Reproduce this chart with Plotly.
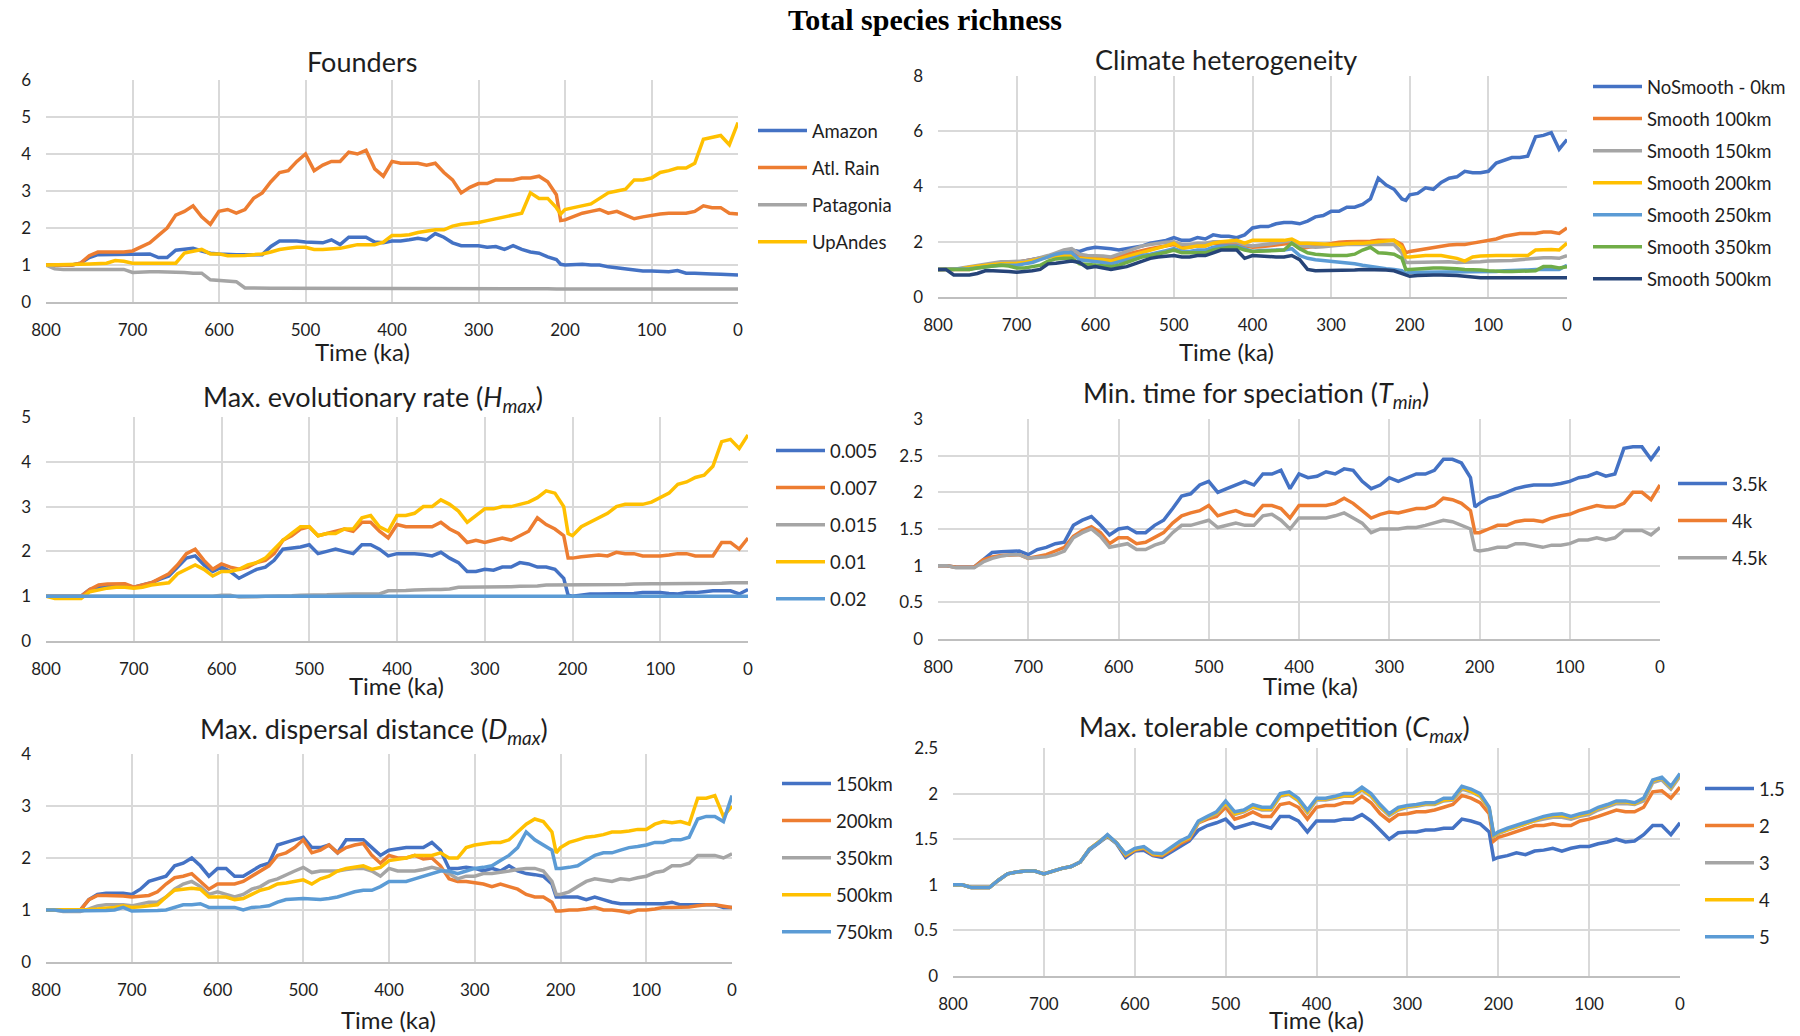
import plotly.graph_objects as go

# Time axis (ka before present), shared by every panel
T = [800, 790, 780, 770, 760, 750, 740, 730, 720, 710,
     700, 690, 680, 670, 660, 650, 640, 630, 620, 610,
     600, 590, 580, 570, 560, 550, 540, 530, 520, 510,
     500, 490, 480, 470, 460, 450, 440, 430, 420, 410,
     400, 390, 380, 370, 360, 350, 340, 330, 320, 310,
     300, 290, 280, 270, 260, 250, 240, 230, 220, 210,
     205,
     200, 190, 180, 170, 160, 150, 140, 130, 120, 110,
     100, 90, 80, 70, 60, 50, 40, 30, 20, 10,
     0]

# ---- Founders ----
amazon = [1.0, 1.0, 1.0, 1.0, 1.05, 1.2, 1.28, 1.28, 1.28, 1.3,
          1.3, 1.3, 1.3, 1.2, 1.2, 1.4, 1.42, 1.45, 1.38, 1.32,
          1.3, 1.28, 1.28, 1.28, 1.28, 1.28, 1.5, 1.65, 1.65, 1.65,
          1.62, 1.6, 1.6, 1.68, 1.55, 1.75, 1.75, 1.75, 1.62, 1.6,
          1.65, 1.65, 1.68, 1.72, 1.68, 1.85, 1.75, 1.6, 1.52, 1.52,
          1.52, 1.48, 1.5, 1.42, 1.52, 1.42, 1.35, 1.32, 1.22, 1.15,
          1.02,
          1.0, 1.02, 1.02, 1.0, 1.0, 0.95, 0.92, 0.88, 0.85, 0.84,
          0.84, 0.83, 0.82, 0.85, 0.78, 0.78, 0.78, 0.76, 0.75, 0.74,
          0.73]
atl_rain = [1.0, 1.0, 1.0, 1.0, 1.05, 1.25, 1.35, 1.35, 1.35, 1.35,
            1.38, 1.5, 1.6, 1.8, 2.0, 2.35, 2.45, 2.6, 2.3, 2.1,
            2.45, 2.5, 2.4, 2.5, 2.8, 2.95, 3.25, 3.5, 3.55, 3.8,
            4.0, 3.55, 3.7, 3.8, 3.8, 4.05, 4.0, 4.1, 3.6, 3.4,
            3.8, 3.75, 3.75, 3.75, 3.7, 3.75, 3.5, 3.3, 2.95, 3.1,
            3.2, 3.2, 3.3, 3.3, 3.3, 3.35, 3.35, 3.4, 3.25, 2.9,
            2.2,
            2.22, 2.3, 2.4, 2.45, 2.5, 2.4, 2.45, 2.35, 2.25, 2.3,
            2.35, 2.38, 2.4, 2.4, 2.4, 2.45, 2.6, 2.55, 2.55, 2.4,
            2.38]
patagonia = [1.0, 0.9, 0.88, 0.88, 0.88, 0.88, 0.88, 0.88, 0.88, 0.88,
             0.8, 0.82, 0.82, 0.82, 0.82, 0.82, 0.8, 0.78, 0.78, 0.6,
             0.58, 0.55, 0.55, 0.38, 0.37, 0.37, 0.37, 0.37, 0.37, 0.37,
             0.37, 0.37, 0.37, 0.37, 0.37, 0.37, 0.37, 0.37, 0.37, 0.38,
             0.38, 0.38, 0.38, 0.38, 0.38, 0.37, 0.37, 0.36, 0.36, 0.36,
             0.36, 0.36, 0.36, 0.36, 0.36, 0.36, 0.36, 0.36, 0.36, 0.35,
             0.35,
             0.35, 0.35, 0.35, 0.35, 0.35, 0.35, 0.35, 0.35, 0.35, 0.35,
             0.35, 0.35, 0.35, 0.35, 0.35, 0.35, 0.35, 0.35, 0.35, 0.35,
             0.35]
up_andes = [1.0, 1.0, 1.0, 1.0, 1.02, 1.03, 1.04, 1.05, 1.12, 1.1,
            1.05, 1.05, 1.05, 1.05, 1.05, 1.05, 1.32, 1.38, 1.42, 1.3,
            1.3, 1.25, 1.25, 1.26, 1.28, 1.3, 1.35, 1.42, 1.45, 1.48,
            1.48, 1.42, 1.42, 1.43, 1.45, 1.5, 1.55, 1.55, 1.55, 1.62,
            1.8, 1.8, 1.82, 1.88, 1.92, 1.95, 1.95, 2.05, 2.1, 2.12,
            2.15, 2.2, 2.25, 2.3, 2.35, 2.4, 2.95, 2.8, 2.8, 2.55,
            2.38,
            2.5, 2.55, 2.6, 2.65, 2.8, 2.95, 3.0, 3.05, 3.3, 3.3,
            3.35, 3.5, 3.55, 3.62, 3.62, 3.75, 4.4, 4.45, 4.5, 4.25,
            4.85]

# ---- Climate heterogeneity ----
no_smooth = [1.0, 1.0, 1.0, 1.02, 1.05, 1.08, 1.1, 1.15, 1.2, 1.22,
             1.25, 1.3, 1.35, 1.4, 1.45, 1.52, 1.6, 1.7, 1.65, 1.75,
             1.8, 1.78, 1.75, 1.7, 1.75, 1.8, 1.85, 1.95, 2.0, 2.05,
             2.15, 2.05, 2.05, 2.15, 2.1, 2.25, 2.2, 2.2, 2.15, 2.25,
             2.5, 2.55, 2.55, 2.65, 2.7, 2.7, 2.65, 2.75, 2.9, 2.95,
             3.1, 3.1, 3.25, 3.25, 3.35, 3.55, 4.3, 4.05, 3.9, 3.55,
             3.5,
             3.7, 3.75, 3.95, 3.9, 4.15, 4.3, 4.35, 4.55, 4.5, 4.5,
             4.55, 4.85, 4.95, 5.05, 5.05, 5.1, 5.8, 5.85, 5.95, 5.35,
             5.7]
smooth_100 = [1.0, 1.0, 1.0, 1.0, 1.0, 1.1, 1.15, 1.18, 1.2, 1.22,
              1.25, 1.3, 1.35, 1.4, 1.45, 1.5, 1.55, 1.6, 1.45, 1.45,
              1.45, 1.42, 1.4, 1.45, 1.55, 1.62, 1.7, 1.75, 1.8, 1.85,
              1.9, 1.8, 1.8, 1.85, 1.85, 1.95, 1.95, 1.95, 1.95, 1.85,
              1.8, 1.82, 1.85, 1.88, 1.9, 1.95, 1.75, 1.8, 1.85, 1.9,
              1.95, 1.98, 2.0, 2.0, 2.0, 2.02, 2.05, 2.05, 2.05, 1.9,
              1.6,
              1.65, 1.7, 1.75, 1.8, 1.85, 1.88, 1.9, 1.9, 1.95, 2.0,
              2.05, 2.1, 2.2, 2.25, 2.3, 2.3, 2.3, 2.35, 2.35, 2.3,
              2.5]
smooth_150 = [1.0, 1.0, 1.0, 1.05, 1.1, 1.15, 1.2, 1.25, 1.28, 1.28,
              1.28, 1.3, 1.35, 1.42, 1.5, 1.6, 1.7, 1.75, 1.55, 1.5,
              1.5, 1.48, 1.45, 1.55, 1.65, 1.75, 1.85, 1.9, 1.95, 1.98,
              2.0, 1.9, 1.9, 1.95, 1.95, 2.0, 2.0, 2.0, 2.0, 1.9,
              1.85, 1.88, 1.9, 1.95, 2.0, 2.05, 1.85, 1.82, 1.8, 1.82,
              1.85, 1.88, 1.9, 1.9, 1.9, 1.9, 1.9, 1.9, 1.9, 1.6,
              1.25,
              1.25, 1.26, 1.28, 1.28, 1.3, 1.28, 1.25, 1.25, 1.25, 1.28,
              1.3, 1.3, 1.3, 1.32, 1.35, 1.38, 1.4, 1.42, 1.42, 1.4,
              1.5]
smooth_200 = [1.0, 1.0, 1.0, 1.02, 1.08, 1.12, 1.15, 1.18, 1.2, 1.2,
              1.22, 1.25, 1.3, 1.38, 1.45, 1.48, 1.5, 1.5, 1.4, 1.38,
              1.38, 1.35, 1.3, 1.38, 1.45, 1.52, 1.6, 1.68, 1.75, 1.85,
              1.95, 1.75, 1.8, 1.85, 1.85, 1.95, 2.0, 2.02, 2.05, 1.95,
              2.05, 2.05, 2.05, 2.05, 2.05, 2.1, 1.95, 1.95, 1.95, 1.92,
              1.9, 1.92, 1.95, 1.95, 1.95, 1.98, 2.0, 2.02, 2.05, 1.8,
              1.45,
              1.45, 1.48, 1.5, 1.5, 1.5, 1.45, 1.4, 1.3, 1.45, 1.48,
              1.5, 1.5, 1.5, 1.5, 1.5, 1.5, 1.7, 1.72, 1.72, 1.7,
              1.95]
smooth_250 = [1.0, 1.0, 1.0, 1.0, 1.02, 1.05, 1.1, 1.12, 1.15, 1.15,
              1.15, 1.2, 1.25, 1.35, 1.45, 1.55, 1.6, 1.6, 1.35, 1.32,
              1.3, 1.25, 1.2, 1.28, 1.35, 1.42, 1.5, 1.55, 1.6, 1.68,
              1.75, 1.65, 1.65, 1.7, 1.7, 1.8, 1.85, 1.85, 1.85, 1.75,
              1.65, 1.68, 1.7, 1.7, 1.7, 1.75, 1.5, 1.4, 1.35, 1.32,
              1.3, 1.28, 1.25, 1.2, 1.15, 1.1, 1.05, 1.02, 1.0, 0.95,
              0.85,
              0.9, 0.9, 0.9, 0.9, 0.92, 0.92, 0.92, 0.9, 0.9, 0.9,
              0.9, 0.92, 0.95, 0.95, 0.95, 0.98, 1.0, 1.0, 1.0, 1.0,
              1.15]
smooth_350 = [1.0, 1.0, 1.0, 1.0, 1.0, 1.05, 1.1, 1.12, 1.15, 1.12,
              1.05, 1.05, 1.1, 1.15, 1.3, 1.38, 1.4, 1.4, 1.2, 1.18,
              1.15, 1.12, 1.1, 1.15, 1.25, 1.35, 1.45, 1.5, 1.55, 1.62,
              1.7, 1.6, 1.6, 1.6, 1.6, 1.7, 1.75, 1.8, 1.8, 1.7,
              1.65, 1.65, 1.65, 1.68, 1.7, 1.95, 1.75, 1.6, 1.55, 1.52,
              1.5, 1.5, 1.5, 1.55, 1.7, 1.8, 1.6, 1.58, 1.55, 1.4,
              1.0,
              1.0, 1.02, 1.05, 1.05, 1.05, 1.05, 1.02, 1.0, 1.0, 0.98,
              0.95, 0.92, 0.92, 0.92, 0.92, 0.92, 0.95, 1.1, 1.1, 1.05,
              1.1]
smooth_500 = [1.0, 1.0, 0.8, 0.8, 0.8, 0.85, 0.95, 0.95, 0.95, 0.92,
              0.9, 0.92, 0.95, 1.0, 1.2, 1.22, 1.25, 1.3, 1.25, 1.05,
              1.1, 1.05, 1.0, 1.05, 1.1, 1.2, 1.3, 1.4, 1.45, 1.48,
              1.5, 1.45, 1.45, 1.5, 1.5, 1.6, 1.7, 1.7, 1.7, 1.4,
              1.5, 1.48, 1.45, 1.45, 1.45, 1.5, 1.35, 1.0, 0.95, 0.95,
              0.95, 0.95, 0.95, 0.98, 1.0, 1.0, 1.0, 0.98, 0.95, 0.85,
              0.78,
              0.75, 0.78, 0.8, 0.8, 0.8, 0.8, 0.78, 0.75, 0.72, 0.7,
              0.7, 0.7, 0.7, 0.7, 0.7, 0.7, 0.7, 0.72, 0.72, 0.7,
              0.7]

# ---- Max. evolutionary rate ----
h_0005 = [1.0, 1.0, 1.0, 1.0, 1.0, 1.15, 1.2, 1.22, 1.25, 1.25,
          1.2, 1.25, 1.3, 1.38, 1.45, 1.65, 1.85, 1.9, 1.7, 1.55,
          1.65, 1.55, 1.4, 1.5, 1.6, 1.65, 1.8, 2.05, 2.08, 2.1,
          2.15, 1.95, 2.0, 2.05, 2.0, 1.95, 2.15, 2.15, 2.05, 1.9,
          1.95, 1.95, 1.95, 1.93, 1.9, 1.98, 1.85, 1.75, 1.55, 1.55,
          1.6, 1.58, 1.65, 1.65, 1.75, 1.72, 1.65, 1.65, 1.6, 1.4,
          1.02,
          1.0, 1.02, 1.05, 1.05, 1.05, 1.05, 1.05, 1.06, 1.08, 1.08,
          1.08, 1.06, 1.05, 1.08, 1.08, 1.1, 1.12, 1.12, 1.12, 1.05,
          1.15]
h_0007 = [1.0, 1.0, 1.0, 1.0, 1.0, 1.15, 1.25, 1.27, 1.28, 1.28,
          1.2, 1.25, 1.3, 1.4, 1.5, 1.7, 1.95, 2.05, 1.8, 1.6,
          1.72, 1.65, 1.6, 1.65, 1.75, 1.8, 1.95, 2.25, 2.35, 2.5,
          2.55, 2.35, 2.4, 2.45, 2.5, 2.45, 2.65, 2.65, 2.45, 2.3,
          2.6, 2.55, 2.55, 2.55, 2.55, 2.65, 2.5, 2.4, 2.2, 2.25,
          2.2, 2.25, 2.3, 2.25, 2.35, 2.45, 2.75, 2.6, 2.5, 2.35,
          1.85,
          1.85, 1.88, 1.9, 1.92, 1.9, 1.98, 1.95, 1.95, 1.9, 1.9,
          1.9, 1.92, 1.95, 1.95, 1.9, 1.9, 1.9, 2.2, 2.2, 2.05,
          2.3]
h_0015 = [1.0, 1.0, 1.0, 1.0, 1.0, 1.0, 1.0, 1.0, 1.0, 1.0,
          1.0, 1.0, 1.0, 1.0, 1.0, 1.0, 1.0, 1.0, 1.0, 1.0,
          1.02, 1.02, 0.98, 0.98, 0.99, 1.0, 1.0, 1.0, 1.01, 1.02,
          1.02, 1.02, 1.03, 1.04, 1.05, 1.05, 1.05, 1.05, 1.05, 1.12,
          1.12, 1.13, 1.14, 1.15, 1.15, 1.15, 1.16, 1.2, 1.2, 1.2,
          1.2, 1.2, 1.2, 1.21, 1.22, 1.22, 1.23, 1.25, 1.25, 1.25,
          1.25,
          1.25, 1.25, 1.25, 1.26, 1.26, 1.26, 1.26, 1.27, 1.28, 1.28,
          1.28, 1.28, 1.28, 1.28, 1.28, 1.28, 1.28, 1.29, 1.3, 1.3,
          1.3]
h_001 = [1.0, 0.95, 0.95, 0.95, 0.95, 1.1, 1.15, 1.18, 1.2, 1.2,
         1.18, 1.2, 1.25, 1.28, 1.3, 1.5, 1.6, 1.7, 1.6, 1.45,
         1.55, 1.55, 1.6, 1.7, 1.75, 1.85, 2.05, 2.25, 2.4, 2.55,
         2.55, 2.35, 2.4, 2.4, 2.5, 2.5, 2.75, 2.8, 2.55, 2.45,
         2.8, 2.8, 2.85, 3.0, 3.0, 3.15, 3.05, 2.9, 2.65, 2.8,
         2.95, 2.95, 3.0, 3.0, 3.05, 3.1, 3.2, 3.35, 3.3, 3.0,
         2.4,
         2.35, 2.55, 2.65, 2.75, 2.85, 3.0, 3.05, 3.05, 3.05, 3.1,
         3.2, 3.3, 3.5, 3.55, 3.65, 3.7, 3.9, 4.45, 4.5, 4.3,
         4.6]
h_002 = [1.0, 1.0, 1.0, 1.0, 1.0, 1.0, 1.0, 1.0, 1.0, 1.0,
         1.0, 1.0, 1.0, 1.0, 1.0, 1.0, 1.0, 1.0, 1.0, 1.0,
         1.0, 1.0, 1.0, 1.0, 1.0, 1.0, 1.0, 1.0, 1.0, 1.0,
         1.0, 1.0, 1.0, 1.0, 1.0, 1.0, 1.0, 1.0, 1.0, 1.0,
         1.0, 1.0, 1.0, 1.0, 1.0, 1.0, 1.0, 1.0, 1.0, 1.0,
         1.0, 1.0, 1.0, 1.0, 1.0, 1.0, 1.0, 1.0, 1.0, 1.0,
         1.0,
         1.0, 1.0, 1.0, 1.0, 1.0, 1.0, 1.0, 1.0, 1.0, 1.0,
         1.0, 1.0, 1.0, 1.0, 1.0, 1.0, 1.0, 1.0, 1.0, 1.0,
         1.0]

# ---- Min. time for speciation ----
t_35k = [1.0, 1.0, 0.98, 0.98, 0.98, 1.08, 1.18, 1.19, 1.2, 1.2,
         1.15, 1.22, 1.25, 1.3, 1.32, 1.55, 1.62, 1.67, 1.55, 1.42,
         1.5, 1.52, 1.45, 1.45, 1.55, 1.62, 1.78, 1.95, 1.98, 2.1,
         2.15, 2.0, 2.05, 2.1, 2.15, 2.1, 2.25, 2.25, 2.3, 2.05,
         2.25, 2.2, 2.22, 2.28, 2.25, 2.32, 2.3, 2.15, 2.05, 2.1,
         2.2, 2.15, 2.2, 2.25, 2.25, 2.3, 2.45, 2.45, 2.4, 2.2,
         1.8,
         1.85, 1.92, 1.95, 2.0, 2.05, 2.08, 2.1, 2.1, 2.1, 2.12,
         2.15, 2.2, 2.22, 2.27, 2.22, 2.25, 2.6, 2.62, 2.62, 2.45,
         2.62]
t_4k = [1.0, 1.0, 0.98, 0.98, 0.98, 1.08, 1.12, 1.14, 1.15, 1.15,
        1.1, 1.13, 1.15, 1.2, 1.25, 1.4, 1.48, 1.53, 1.45, 1.3,
        1.38, 1.38, 1.3, 1.32, 1.38, 1.45, 1.58, 1.68, 1.72, 1.75,
        1.82, 1.68, 1.72, 1.75, 1.7, 1.68, 1.82, 1.82, 1.78, 1.65,
        1.82, 1.82, 1.82, 1.82, 1.85, 1.92, 1.85, 1.75, 1.65, 1.7,
        1.73, 1.72, 1.75, 1.78, 1.78, 1.82, 1.92, 1.9, 1.85, 1.75,
        1.45,
        1.45, 1.5, 1.55, 1.55, 1.6, 1.62, 1.62, 1.6, 1.65, 1.68,
        1.7, 1.75, 1.78, 1.82, 1.8, 1.8, 1.85, 2.0, 2.0, 1.9,
        2.1]
t_45k = [1.0, 1.0, 0.97, 0.97, 0.97, 1.05, 1.1, 1.13, 1.15, 1.15,
         1.1, 1.11, 1.12, 1.15, 1.2, 1.38, 1.45, 1.5, 1.4, 1.25,
         1.28, 1.3, 1.22, 1.22, 1.28, 1.32, 1.45, 1.55, 1.55, 1.58,
         1.62, 1.52, 1.55, 1.58, 1.55, 1.55, 1.68, 1.7, 1.62, 1.5,
         1.65, 1.65, 1.65, 1.65, 1.68, 1.72, 1.65, 1.58, 1.45, 1.5,
         1.5, 1.5, 1.52, 1.52, 1.55, 1.58, 1.62, 1.6, 1.55, 1.5,
         1.22,
         1.2, 1.22, 1.25, 1.25, 1.3, 1.3, 1.28, 1.25, 1.28, 1.28,
         1.3, 1.35, 1.35, 1.38, 1.35, 1.38, 1.48, 1.48, 1.48, 1.42,
         1.52]

# ---- Max. dispersal distance ----
d_150 = [1.0, 1.0, 1.0, 1.0, 1.0, 1.2, 1.3, 1.32, 1.32, 1.32,
         1.3, 1.4, 1.55, 1.6, 1.65, 1.85, 1.9, 2.0, 1.85, 1.65,
         1.8, 1.8, 1.65, 1.65, 1.75, 1.85, 1.9, 2.25, 2.3, 2.35,
         2.4, 2.2, 2.2, 2.25, 2.1, 2.35, 2.35, 2.35, 2.2, 2.05,
         2.15, 2.18, 2.2, 2.2, 2.2, 2.3, 2.15, 1.8, 1.8, 1.82,
         1.8, 1.75, 1.8, 1.75, 1.85, 1.75, 1.7, 1.68, 1.65, 1.5,
         1.25,
         1.25, 1.25, 1.25, 1.2, 1.25, 1.2, 1.15, 1.12, 1.12, 1.12,
         1.12, 1.12, 1.12, 1.15, 1.1, 1.1, 1.1, 1.1, 1.1, 1.05,
         1.05]
d_200 = [1.0, 1.0, 1.0, 1.0, 1.0, 1.2, 1.28, 1.28, 1.28, 1.27,
         1.25, 1.26, 1.28, 1.35, 1.5, 1.62, 1.65, 1.7, 1.55, 1.4,
         1.5, 1.5, 1.5, 1.55, 1.65, 1.75, 1.85, 2.05, 2.1, 2.2,
         2.35, 2.1, 2.15, 2.25, 2.1, 2.2, 2.25, 2.28, 2.05, 1.9,
         2.05, 2.0, 2.0, 2.05, 1.98, 2.0, 1.85, 1.6, 1.55, 1.55,
         1.52, 1.5, 1.45, 1.5, 1.45, 1.4, 1.3, 1.25, 1.25, 1.15,
         0.98,
         0.98, 1.0, 1.0, 1.02, 1.05, 1.0, 1.0, 0.98, 0.95, 1.0,
         1.0, 1.02, 1.05, 1.05, 1.05, 1.06, 1.08, 1.1, 1.1, 1.08,
         1.05]
d_350 = [1.0, 1.0, 0.97, 0.97, 0.97, 1.02, 1.08, 1.1, 1.1, 1.1,
         1.08, 1.12, 1.15, 1.15, 1.25, 1.4, 1.5, 1.55, 1.45, 1.3,
         1.35, 1.3, 1.25, 1.3, 1.4, 1.45, 1.55, 1.6, 1.68, 1.75,
         1.82, 1.72, 1.75, 1.75, 1.75, 1.78, 1.8, 1.8, 1.75, 1.65,
         1.8, 1.75, 1.75, 1.75, 1.78, 1.82, 1.78, 1.7, 1.6, 1.65,
         1.65, 1.7, 1.7, 1.72, 1.75, 1.78, 1.8, 1.8, 1.75, 1.55,
         1.3,
         1.3, 1.35, 1.45, 1.55, 1.6, 1.58, 1.55, 1.6, 1.58, 1.62,
         1.65, 1.72, 1.75, 1.85, 1.85, 1.9, 2.05, 2.05, 2.05, 2.0,
         2.08]
d_500 = [1.0, 1.0, 1.0, 1.0, 1.0, 1.01, 1.02, 1.03, 1.05, 1.08,
         1.05, 1.06, 1.08, 1.1, 1.25, 1.38, 1.4, 1.42, 1.4, 1.25,
         1.25, 1.25, 1.2, 1.22, 1.3, 1.38, 1.42, 1.5, 1.52, 1.55,
         1.58, 1.5, 1.6, 1.65, 1.75, 1.8, 1.82, 1.85, 1.78, 1.82,
         1.95, 1.98, 2.0, 2.05, 2.05, 2.05, 2.1, 2.0, 2.0, 2.2,
         2.25, 2.28, 2.3, 2.3, 2.35, 2.5, 2.65, 2.75, 2.7, 2.5,
         2.1,
         2.2, 2.3, 2.35, 2.4, 2.42, 2.45, 2.5, 2.5, 2.52, 2.55,
         2.55, 2.65, 2.7, 2.68, 2.7, 2.65, 3.15, 3.15, 3.2, 2.8,
         3.0]
d_750 = [1.0, 1.0, 0.98, 0.98, 0.98, 0.98, 0.98, 0.99, 1.0, 1.05,
         0.98, 0.98, 0.98, 0.99, 1.0, 1.05, 1.1, 1.1, 1.12, 1.05,
         1.05, 1.05, 1.05, 1.0, 1.05, 1.06, 1.08, 1.15, 1.2, 1.21,
         1.22, 1.21, 1.2, 1.22, 1.25, 1.3, 1.35, 1.38, 1.38, 1.45,
         1.55, 1.55, 1.55, 1.6, 1.65, 1.7, 1.75, 1.75, 1.7, 1.75,
         1.8, 1.82, 1.85, 1.95, 2.05, 2.2, 2.5, 2.35, 2.25, 2.15,
         1.8,
         1.8, 1.82, 1.85, 1.95, 2.05, 2.1, 2.1, 2.15, 2.2, 2.22,
         2.25, 2.3, 2.3, 2.35, 2.35, 2.4, 2.75, 2.8, 2.8, 2.7,
         3.2]

# ---- Max. tolerable competition ----
c_15 = [1.0, 1.0, 0.97, 0.97, 0.97, 1.05, 1.12, 1.14, 1.15, 1.15,
        1.12, 1.15, 1.18, 1.2, 1.25, 1.38, 1.45, 1.53, 1.45, 1.3,
        1.37, 1.38, 1.32, 1.3, 1.36, 1.42, 1.48, 1.6, 1.65, 1.68,
        1.72, 1.62, 1.65, 1.68, 1.65, 1.62, 1.75, 1.75, 1.7, 1.58,
        1.7, 1.7, 1.7, 1.72, 1.72, 1.77, 1.7, 1.6, 1.5, 1.57,
        1.58, 1.58, 1.6, 1.6, 1.62, 1.62, 1.72, 1.7, 1.67, 1.58,
        1.28,
        1.3, 1.32, 1.35, 1.33, 1.37, 1.38, 1.4, 1.37, 1.4, 1.42,
        1.42, 1.45, 1.47, 1.5, 1.47, 1.48, 1.55, 1.65, 1.65, 1.55,
        1.68]
c_2 = [1.0, 1.0, 0.97, 0.97, 0.97, 1.05, 1.12, 1.14, 1.15, 1.15,
       1.12, 1.15, 1.18, 1.2, 1.25, 1.39, 1.46, 1.54, 1.46, 1.32,
       1.38, 1.4, 1.33, 1.32, 1.38, 1.45, 1.5, 1.68, 1.72, 1.75,
       1.85, 1.72, 1.75, 1.8, 1.75, 1.75, 1.88, 1.9, 1.85, 1.72,
       1.85, 1.87, 1.87, 1.9, 1.9, 1.97, 1.9, 1.78, 1.7, 1.77,
       1.78, 1.8, 1.8, 1.82, 1.85, 1.88, 1.98, 1.95, 1.9, 1.78,
       1.48,
       1.52, 1.55, 1.58, 1.62, 1.65, 1.65, 1.67, 1.65, 1.65, 1.7,
       1.72, 1.75, 1.78, 1.82, 1.8, 1.8, 1.85, 2.02, 2.03, 1.95,
       2.07]
c_3 = [1.0, 1.0, 0.97, 0.97, 0.97, 1.05, 1.12, 1.14, 1.15, 1.15,
       1.12, 1.15, 1.18, 1.2, 1.25, 1.39, 1.46, 1.54, 1.46, 1.33,
       1.39, 1.41, 1.34, 1.33, 1.4, 1.47, 1.52, 1.68, 1.74, 1.78,
       1.89, 1.77, 1.8, 1.85, 1.82, 1.82, 1.97, 1.99, 1.92, 1.79,
       1.93, 1.93, 1.95, 1.97, 1.97, 2.04, 1.97, 1.85, 1.76, 1.82,
       1.85, 1.86, 1.88, 1.88, 1.92, 1.93, 2.05, 2.02, 1.97, 1.83,
       1.53,
       1.56, 1.6, 1.63, 1.66, 1.7, 1.72, 1.74, 1.74, 1.72, 1.75,
       1.77, 1.82, 1.85, 1.89, 1.89, 1.88, 1.92, 2.12, 2.15, 2.05,
       2.19]
c_4 = [1.0, 1.0, 0.97, 0.97, 0.97, 1.05, 1.12, 1.14, 1.15, 1.15,
       1.12, 1.15, 1.18, 1.2, 1.25, 1.39, 1.46, 1.54, 1.46, 1.33,
       1.39, 1.41, 1.34, 1.33, 1.4, 1.47, 1.52, 1.69, 1.74, 1.79,
       1.9, 1.78, 1.81, 1.86, 1.83, 1.83, 1.98, 2.0, 1.93, 1.8,
       1.94, 1.94, 1.96, 1.98, 1.98, 2.05, 1.98, 1.86, 1.77, 1.83,
       1.86, 1.87, 1.89, 1.89, 1.93, 1.94, 2.07, 2.03, 1.98, 1.84,
       1.54,
       1.57, 1.61, 1.64, 1.67, 1.71, 1.74, 1.76, 1.76, 1.74, 1.77,
       1.79, 1.84, 1.87, 1.91, 1.91, 1.89, 1.94, 2.14, 2.17, 2.07,
       2.21]
c_5 = [1.0, 1.0, 0.97, 0.97, 0.97, 1.05, 1.12, 1.14, 1.15, 1.15,
       1.12, 1.15, 1.18, 1.2, 1.25, 1.39, 1.46, 1.55, 1.46, 1.34,
       1.4, 1.42, 1.35, 1.34, 1.41, 1.48, 1.53, 1.7, 1.75, 1.8,
       1.92, 1.8, 1.82, 1.88, 1.85, 1.85, 2.0, 2.02, 1.95, 1.82,
       1.95, 1.95, 1.97, 2.0, 2.0, 2.07, 2.0, 1.88, 1.78, 1.85,
       1.87, 1.88, 1.9, 1.9, 1.95, 1.95, 2.08, 2.05, 2.0, 1.85,
       1.55,
       1.58, 1.62, 1.65, 1.68, 1.72, 1.75, 1.77, 1.78, 1.75, 1.78,
       1.8, 1.85, 1.88, 1.92, 1.92, 1.9, 1.95, 2.15, 2.18, 2.08,
       2.22]

# Office palette
BLUE, ORANGE, GRAY, GOLD = "#4472C4", "#ED7D31", "#A5A5A5", "#FFC000"
LBLUE, GREEN, NAVY = "#5B9BD5", "#70AD47", "#264478"

FONT = "Lato"
TXT = "#1e1e1e"
W, H = 1800, 1036

panels = [
    dict(title="Founders", names=["Amazon", "Atl. Rain", "Patagonia", "UpAndes"],
         series=[amazon, atl_rain, patagonia, up_andes], colors=[BLUE, ORANGE, GRAY, GOLD],
         box=(46, 738, 80, 302), yrange=(0, 6), dtick=1,
         title_xy=(362, 61), xlab_xy=(362, 351), legend_xy=(753, 112), gap=10),
    dict(title="Climate heterogeneity",
         names=["NoSmooth - 0km", "Smooth 100km", "Smooth 150km", "Smooth 200km",
                "Smooth 250km", "Smooth 350km", "Smooth 500km"],
         series=[no_smooth, smooth_100, smooth_150, smooth_200, smooth_250, smooth_350, smooth_500],
         colors=[BLUE, ORANGE, GRAY, GOLD, LBLUE, GREEN, NAVY],
         box=(938, 1567, 76, 297), yrange=(0, 8), dtick=2,
         title_xy=(1226, 60), xlab_xy=(1226, 351), legend_xy=(1588, 68), gap=5),
    dict(title="Max. evolutionary rate (<i>H</i><sub><i>max</i></sub>)",
         names=["0.005", "0.007", "0.015", "0.01", "0.02"],
         series=[h_0005, h_0007, h_0015, h_001, h_002], colors=[BLUE, ORANGE, GRAY, GOLD, LBLUE],
         box=(46, 748, 417, 641), yrange=(0, 5), dtick=1,
         title_xy=(373, 398), xlab_xy=(396, 685), legend_xy=(771, 432), gap=10),
    dict(title="Min. time for speciation (<i>T</i><sub><i>min</i></sub>)",
         names=["3.5k", "4k", "4.5k"],
         series=[t_35k, t_4k, t_45k], colors=[BLUE, ORANGE, GRAY],
         box=(938, 1660, 419, 639), yrange=(0, 3), dtick=0.5,
         title_xy=(1256, 395), xlab_xy=(1310, 685), legend_xy=(1673, 465), gap=10),
    dict(title="Max. dispersal distance (<i>D</i><sub><i>max</i></sub>)",
         names=["150km", "200km", "350km", "500km", "750km"],
         series=[d_150, d_200, d_350, d_500, d_750], colors=[BLUE, ORANGE, GRAY, GOLD, LBLUE],
         box=(46, 732, 754, 962), yrange=(0, 4), dtick=1,
         title_xy=(374, 730), xlab_xy=(388, 1019), legend_xy=(777, 765), gap=10),
    dict(title="Max. tolerable competition (<i>C</i><sub><i>max</i></sub>)",
         names=["1.5", "2", "3", "4", "5"],
         series=[c_15, c_2, c_3, c_4, c_5], colors=[BLUE, ORANGE, GRAY, GOLD, LBLUE],
         box=(953, 1680, 748, 976), yrange=(0, 2.5), dtick=0.5,
         title_xy=(1274, 728), xlab_xy=(1316, 1019), legend_xy=(1700, 770), gap=10),
]

fig = go.Figure()
layout = dict(
    width=W, height=H, autosize=False,
    margin=dict(l=0, r=0, t=0, b=0, autoexpand=False),
    paper_bgcolor="white", plot_bgcolor="white",
    font=dict(family=FONT, color=TXT, size=17),
    annotations=[], showlegend=True,
)

layout["annotations"].append(dict(
    text="<b>Total species richness</b>", x=925 / W, y=1 - 20 / H,
    xref="paper", yref="paper", xanchor="center", yanchor="middle", showarrow=False,
    font=dict(family="Liberation Serif", size=30, color="#000000")))

for k, p in enumerate(panels, start=1):
    sfx = "" if k == 1 else str(k)
    xa, ya, lg = "xaxis" + sfx, "yaxis" + sfx, "legend" + sfx
    x0, x1, y0, y1 = p["box"]
    layout[xa] = dict(
        domain=[x0 / W, x1 / W], anchor="y" + sfx, range=[800, 0], automargin=False,
        tickmode="linear", tick0=0, dtick=100, showgrid=True, gridcolor="#D9D9D9", gridwidth=1.5,
        showline=True, linecolor="#BFBFBF", linewidth=2, zeroline=False, ticks="",
        ticklabelstandoff=12, tickfont=dict(size=17, family=FONT, color=TXT))
    layout[ya] = dict(
        domain=[1 - y1 / H, 1 - y0 / H], anchor="x" + sfx, range=list(p["yrange"]),
        automargin=False, tickmode="linear", tick0=0, dtick=p["dtick"], showgrid=True,
        gridcolor="#D9D9D9", gridwidth=1.5, showline=False, zeroline=False, ticks="",
        ticklabelstandoff=14, tickfont=dict(size=17, family=FONT, color=TXT))
    lx, ly = p["legend_xy"]
    layout[lg] = dict(
        x=lx / W, y=1 - ly / H, xanchor="left", yanchor="top", xref="paper", yref="paper",
        traceorder="grouped", tracegroupgap=p["gap"], bgcolor="rgba(0,0,0,0)",
        font=dict(size=18.5, family=FONT, color=TXT), itemwidth=49)
    for name, ys, col in zip(p["names"], p["series"], p["colors"]):
        fig.add_trace(go.Scatter(
            x=T, y=ys, mode="lines", name=name, line=dict(color=col, width=3.5),
            xaxis="x" + sfx, yaxis="y" + sfx, legend=lg, legendgroup=f"{k}-{name}",
            hoverinfo="skip"))
    tx, ty = p["title_xy"]
    layout["annotations"].append(dict(
        text=p["title"], x=tx / W, y=1 - ty / H, xref="paper", yref="paper",
        xanchor="center", yanchor="middle", showarrow=False,
        font=dict(family=FONT, size=27, color=TXT)))
    ax, ay = p["xlab_xy"]
    layout["annotations"].append(dict(
        text="Time (ka)", x=ax / W, y=1 - ay / H, xref="paper", yref="paper",
        xanchor="center", yanchor="middle", showarrow=False,
        font=dict(family=FONT, size=24, color=TXT)))

fig.update_layout(**layout)
fig.write_html("out.html")
